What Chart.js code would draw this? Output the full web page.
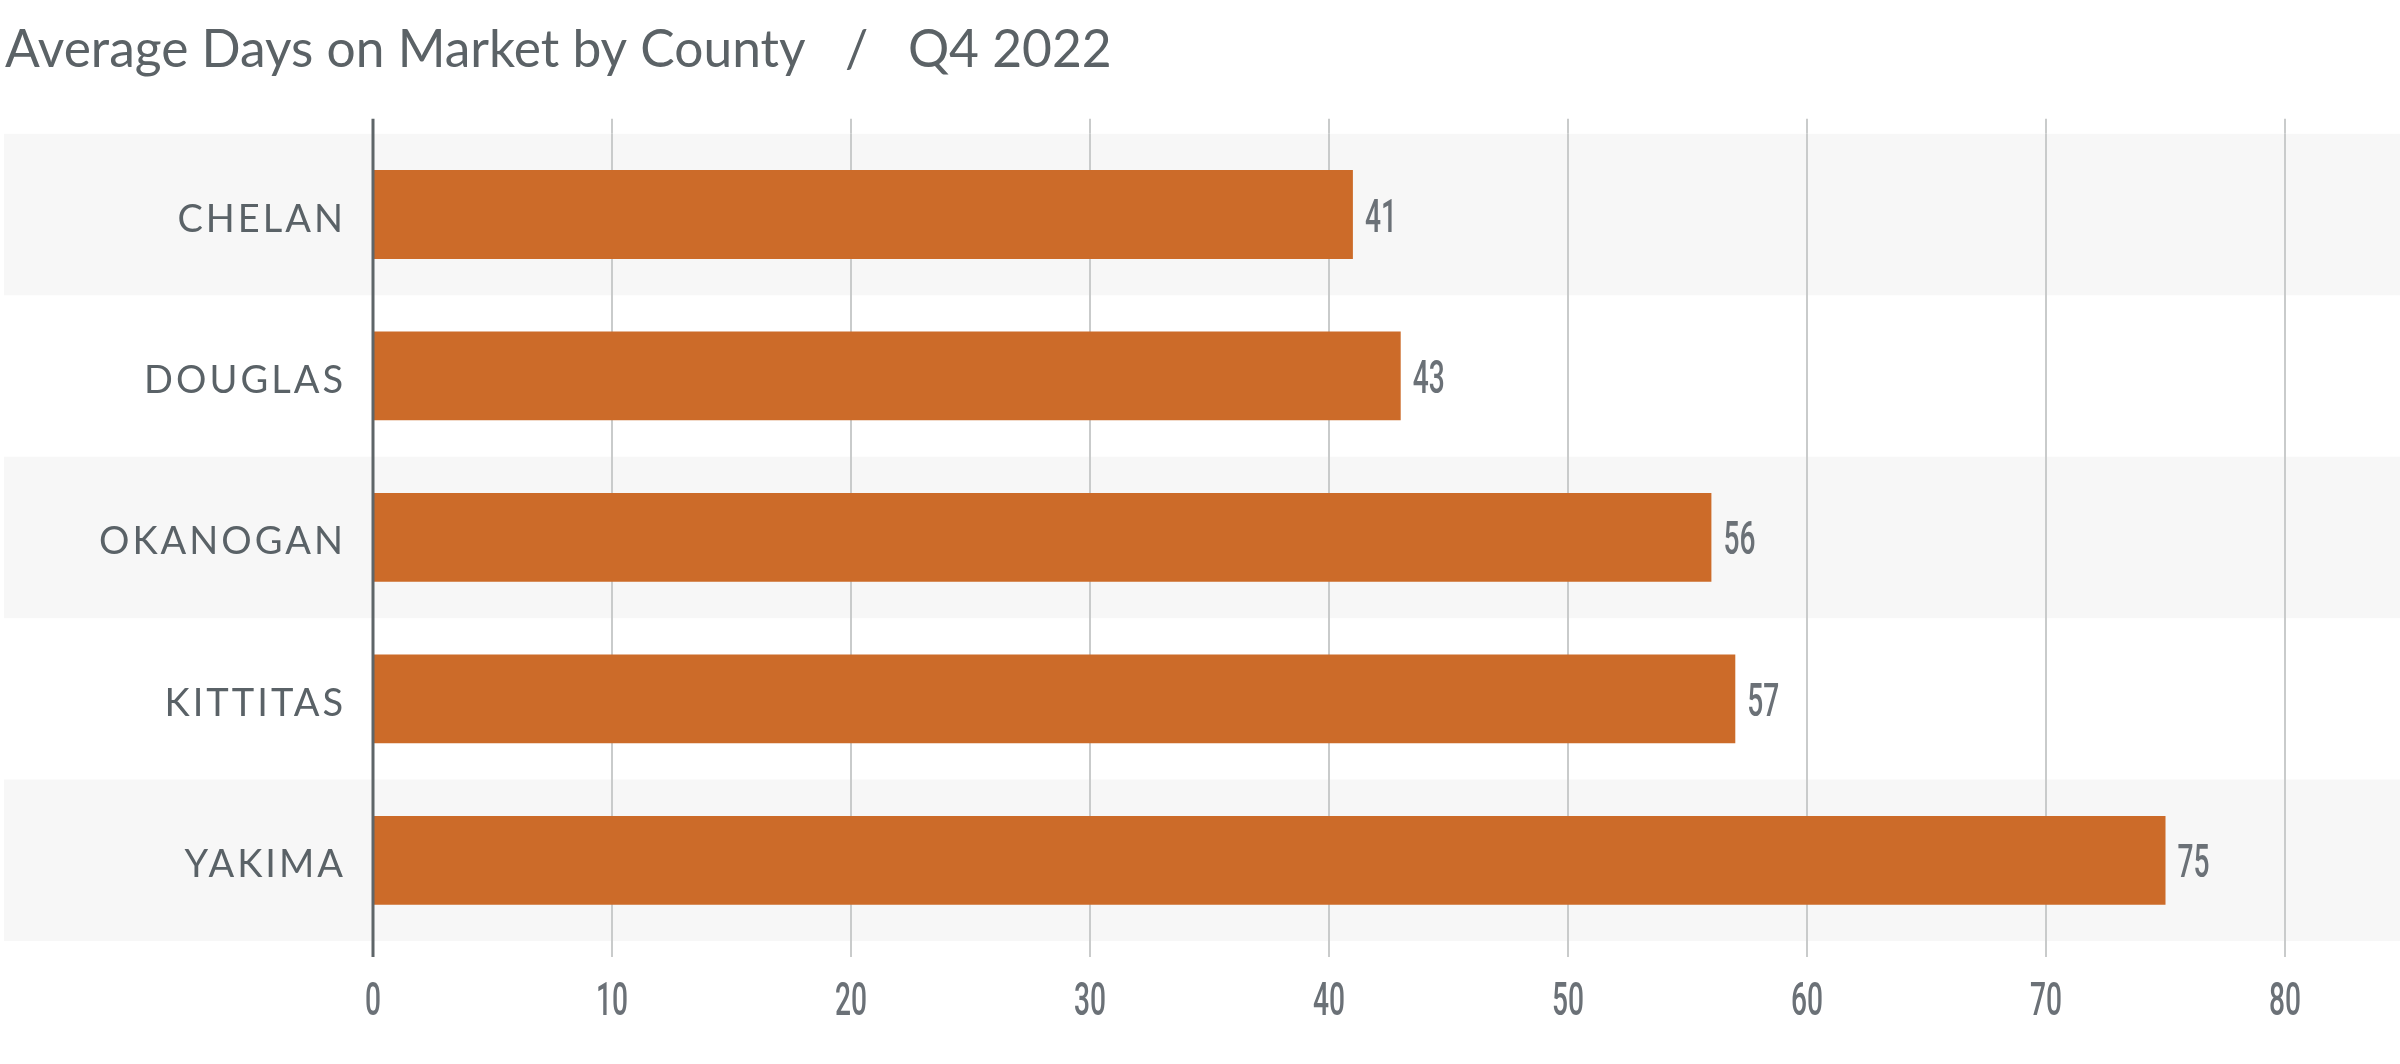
<!DOCTYPE html>
<html>
<head>
<meta charset="utf-8">
<script src="https://cdn.jsdelivr.net/npm/chart.js@4.4.0/dist/chart.umd.min.js"></script>
<style>
  html, body { margin: 0; padding: 0; background: #fff; }
  #wrap { width: 2400px; height: 1064px; }
</style>
</head>
<body>
<div id="wrap"><canvas id="myChart" width="2400" height="1064"></canvas></div>
<script>
const counties = ['CHELAN', 'DOUGLAS', 'OKANOGAN', 'KITTITAS', 'YAKIMA'];
const avgDays = [41, 43, 56, 57, 75];
const xTicks = [0, 10, 20, 30, 40, 50, 60, 70, 80];

const numFont = '500 47px Roboto';
const squeeze = 0.6; // digits in the original are a condensed face

function condensedText(ctx, txt, x, y, align) {
    const w = ctx.measureText(txt).width * squeeze;
    let left = x;
    if (align === 'center') left = x - w / 2;
    ctx.save();
    ctx.translate(left, y);
    ctx.scale(squeeze, 1);
    ctx.textAlign = 'left';
    ctx.fillText(txt, 0, 0);
    ctx.restore();
}

// grey bands behind every other row, zero line, labels
const rowsPlugin = {
    id: 'rows',
    beforeDraw(chart) {
        const { ctx, chartArea, scales: { y } } = chart;
        const slot = (chartArea.bottom - chartArea.top) / counties.length;
        ctx.save();
        ctx.fillStyle = '#fff';
        ctx.fillRect(0, 0, chart.width, chart.height);
        ctx.fillStyle = '#f7f7f7';
        counties.forEach((c, i) => {
            if (i % 2) return;
            const mid = y.getPixelForValue(i);
            ctx.fillRect(4, mid - slot / 2, chart.width - 4, slot);
        });
        ctx.restore();
    },
    beforeDatasetsDraw(chart) {
        const { ctx, chartArea, scales: { x } } = chart;
        ctx.save();
        ctx.strokeStyle = '#c9cbcb';
        ctx.lineWidth = 2;
        xTicks.slice(1).forEach(v => {
            const px = x.getPixelForValue(v);
            ctx.beginPath();
            ctx.moveTo(px, chartArea.top - 15);
            ctx.lineTo(px, chartArea.top);
            ctx.moveTo(px, chartArea.bottom);
            ctx.lineTo(px, chartArea.bottom + 16);
            ctx.stroke();
        });
        ctx.restore();
    },
    afterDatasetsDraw(chart) {
        const { ctx, chartArea, scales: { x, y } } = chart;
        ctx.save();
        const x0 = x.getPixelForValue(0);
        ctx.strokeStyle = '#5e6568';
        ctx.lineWidth = 3;
        ctx.beginPath();
        ctx.moveTo(x0, chartArea.top - 15);
        ctx.lineTo(x0, chartArea.bottom + 16);
        ctx.stroke();

        // county labels
        ctx.font = '38px Lato';
        ctx.letterSpacing = '3px';
        ctx.fillStyle = '#5a6267';
        ctx.textAlign = 'right';
        ctx.textBaseline = 'alphabetic';
        counties.forEach((c, i) => {
            ctx.fillText(c, x0 - 27, y.getPixelForValue(i) + 17);
        });
        ctx.letterSpacing = '0px';

        // value labels and x tick labels
        ctx.font = numFont;
        ctx.fillStyle = '#6b7177';
        chart.getDatasetMeta(0).data.forEach((bar, i) => {
            condensedText(ctx, String(avgDays[i]), bar.x + 12, bar.y + 17, 'left');
        });
        x.ticks.forEach(t => {
            condensedText(ctx, String(t.value), x.getPixelForValue(t.value), 1015, 'center');
        });
        ctx.restore();
    }
};

new Chart(document.getElementById('myChart'), {
    type: 'bar',
    data: {
        labels: counties,
        datasets: [{
            data: avgDays,
            backgroundColor: '#cc6b29',
            borderWidth: 0,
            barPercentage: 0.55,
            categoryPercentage: 1
        }]
    },
    options: {
        indexAxis: 'y',
        responsive: false,
        animation: false,
        devicePixelRatio: 1,
        layout: {
            padding: { left: 5, right: 115, top: 0, bottom: 123 }
        },
        plugins: {
            legend: { display: false },
            tooltip: { enabled: false },
            title: {
                display: true,
                text: 'Average Days on Market by County   /   Q4 2022',
                align: 'start',
                color: '#5b6266',
                font: { family: 'Lato', size: 51.5, weight: 'normal' },
                padding: { top: 19, bottom: 53 }
            }
        },
        scales: {
            x: {
                min: 0,
                max: 80,
                ticks: { stepSize: 10, display: false },
                grid: {
                    drawTicks: false,
                    lineWidth: 2,
                    color: ctx => ctx.tick && ctx.tick.value === 0 ? 'rgba(0,0,0,0)' : '#c9cbcb'
                },
                border: { display: false }
            },
            y: {
                ticks: { display: false },
                grid: { display: false },
                border: { display: false },
                afterFit(scale) { scale.width = 368; }
            }
        }
    },
    plugins: [rowsPlugin]
});
</script>
</body>
</html>
